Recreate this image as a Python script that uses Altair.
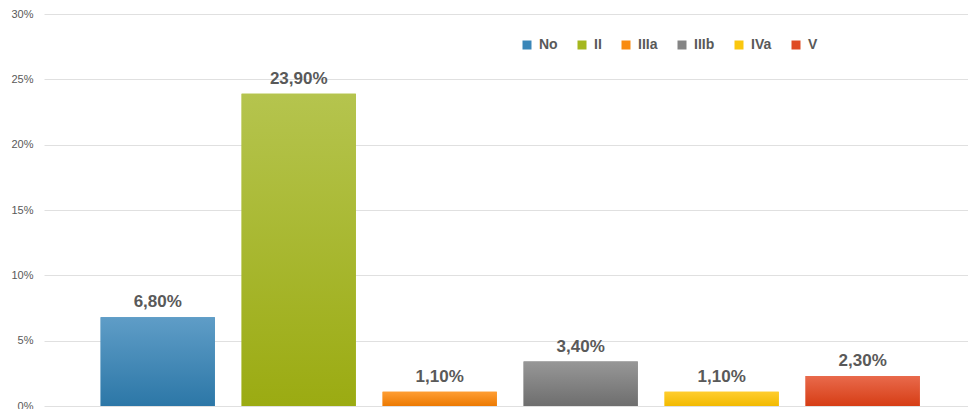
import altair as alt
import pandas as pd

categories = ["No", "II", "IIIa", "IIIb", "IVa", "V"]
values = [6.8, 23.9, 1.1, 3.4, 1.1, 2.3]
solid_colors = ["#3a86b8", "#a5b71e", "#f98b10", "#848484", "#fac70e", "#df4a24"]
grad_top = ["#5f9dc7", "#b5c44e", "#ff9e33", "#979797", "#ffcd2e", "#e96a4c"]
grad_bottom = ["#2c77a7", "#9bab12", "#ec7a02", "#6e6e6e", "#f2ba00", "#d63d15"]
y_ticks = [0, 5, 10, 15, 20, 25, 30]

labels = [f"{v:.2f}".replace(".", ",") + "%" for v in values]
df = pd.DataFrame({"cat": categories, "val": values, "label": labels})

FONT = "Liberation Sans"

x_enc = alt.X(
    "cat:N",
    sort=categories,
    scale=alt.Scale(paddingInner=0.19, paddingOuter=0.372, align=0.54),
    axis=None,
)
y_enc = alt.Y(
    "val:Q",
    scale=alt.Scale(domain=[0, 30], nice=False),
    axis=alt.Axis(
        values=y_ticks,
        labelExpr="datum.value + '%'",
        title=None,
        domain=False,
        ticks=False,
        grid=True,
        gridColor="#e0e0e0",
        gridWidth=1,
        labelFont=FONT,
        labelFontSize=11,
        labelColor="#595959",
        labelPadding=11,
    ),
)

base = alt.Chart(df)

legend_bars = base.mark_bar().encode(
    x=x_enc,
    y=y_enc,
    color=alt.Color(
        "cat:N",
        sort=categories,
        scale=alt.Scale(domain=categories, range=solid_colors),
        legend=alt.Legend(
            title=None,
            orient="none",
            legendX=476,
            legendY=24,
            direction="horizontal",
            symbolType="square",
            symbolSize=81,
            symbolStrokeWidth=0,
            labelFont=FONT,
            labelFontSize=14,
            labelFontWeight="bold",
            labelColor="#595959",
            labelOffset=5,
            columnPadding=17,
        ),
    ),
)

layers = [legend_bars]
for c, t, b in zip(categories, grad_top, grad_bottom):
    grad = alt.Gradient(
        gradient="linear",
        x1=0, y1=0, x2=0, y2=1,
        stops=[alt.GradientStop(color=t, offset=0), alt.GradientStop(color=b, offset=1)],
    )
    layers.append(
        base.mark_bar(fill=grad)
        .encode(x=x_enc, y=y_enc)
        .transform_filter(alt.datum.cat == c)
    )

text = base.mark_text(
    font=FONT, fontSize=17, fontWeight="bold", color="#595959",
    align="center", baseline="alphabetic", dy=-10,
).encode(x=x_enc, y=y_enc, text="label:N")
layers.append(text)

chart = (
    alt.layer(*layers)
    .properties(
        width=924,
        height=392,
        autosize=alt.AutoSizeParams(type="none"),
        padding={"left": 44, "top": 14, "right": 0, "bottom": 3},
        background="white",
    )
    .configure_view(stroke=None)
)

chart.save("out.html", embed_options={"renderer": "svg", "actions": False})
